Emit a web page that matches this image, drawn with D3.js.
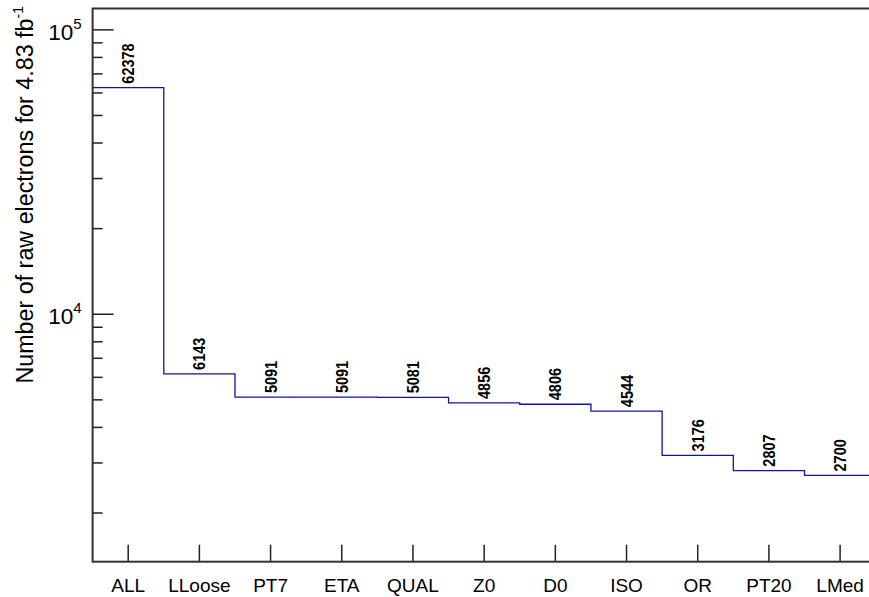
<!DOCTYPE html>
<html>
<head>
<meta charset="utf-8">
<script src="https://cdn.jsdelivr.net/npm/d3@7"></script>
<style>
  body { margin: 0; background: #fff; }
  svg { display: block; font-family: "Liberation Sans", Arial, Helvetica, sans-serif; }
</style>
</head>
<body>
<svg id="chart" width="869" height="597"></svg>
<script>
// cut flow bins and counts
const cuts = ["ALL", "LLoose", "PT7", "ETA", "QUAL", "Z0", "D0", "ISO", "OR", "PT20", "LMed"];
const counts = [62378, 6143, 5091, 5091, 5081, 4856, 4806, 4544, 3176, 2807, 2700];
const majorTicks = [1e4, 1e5];
const minorTicks = [2000, 3000, 4000, 5000, 6000, 7000, 8000, 9000,
                    20000, 30000, 40000, 50000, 60000, 70000, 80000, 90000];

const plotLeft = 92.6, plotRight = 875.7, plotTop = 8.5, plotBottom = 561.7;

const svg = d3.select("#chart");

const x = d3.scaleBand().domain(cuts).range([plotLeft, plotRight]).padding(0);
const y = d3.scaleLog().domain([1343, 118400]).range([plotBottom, plotTop]);

// histogram line
const pts = [];
cuts.forEach((c, i) => {
    pts.push([x(c), y(counts[i])]);
    pts.push([x(c) + x.bandwidth(), y(counts[i])]);
});
svg.append("path")
    .attr("d", d3.line()(pts))
    .attr("fill", "none")
    .attr("stroke", "#1010b0")
    .attr("stroke-width", 1.3);

// value labels above each bin
svg.selectAll("text.val")
    .data(counts)
    .enter().append("text")
    .attr("class", "val")
    .attr("transform", (d, i) => `translate(${x(cuts[i]) + x.bandwidth() / 2 + 6},${y(d) - 4}) rotate(-90) scale(1,1.18)`)
    .attr("font-size", 14.5)
    .attr("font-weight", "bold")
    .text(d => d);

// minor y ticks
const yMinor = svg.append("g").attr("transform", `translate(${plotLeft},0)`)
    .call(d3.axisLeft(y).tickValues(minorTicks).tickSizeInner(-10).tickSizeOuter(0).tickFormat(""));
// major y ticks
const yMajor = svg.append("g").attr("transform", `translate(${plotLeft},0)`)
    .call(d3.axisLeft(y).tickValues(majorTicks).tickSizeInner(-21).tickSizeOuter(0).tickPadding(11).tickFormat(""));
[yMinor, yMajor].forEach(g => {
    g.select(".domain").remove();
    g.selectAll("line").attr("stroke", "#222").attr("stroke-width", 1.5);
});
yMajor.selectAll(".tick text")
    .attr("font-size", 22.5)
    .attr("fill", "#000")
    .attr("dy", "0.45em")
    .each(function(d) {
        const t = d3.select(this);
        t.append("tspan").text("10");
        t.append("tspan").attr("font-size", 15).attr("dy", "-0.75em").text(Math.round(Math.log10(d)));
    });

// x axis
const xAxis = svg.append("g").attr("transform", `translate(0,${plotBottom})`)
    .call(d3.axisBottom(x).tickSizeInner(-17).tickSizeOuter(0).tickPadding(17));
xAxis.select(".domain").remove();
xAxis.selectAll("line").attr("stroke", "#222").attr("stroke-width", 1.5);
xAxis.selectAll("text").attr("font-size", 19).attr("fill", "#000");

// frame
svg.append("rect")
    .attr("x", plotLeft).attr("y", plotTop)
    .attr("width", plotRight - plotLeft).attr("height", plotBottom - plotTop)
    .attr("fill", "none")
    .attr("stroke", "#333")
    .attr("stroke-width", 2);

// y axis title
const title = svg.append("text")
    .attr("transform", `translate(32.5,6) rotate(-90)`)
    .attr("text-anchor", "end")
    .attr("font-size", 23.3);
title.append("tspan").text("Number of raw electrons for 4.83 fb");
title.append("tspan").attr("font-size", 14).attr("dy", "-0.7em").text("-1");
</script>
</body>
</html>
